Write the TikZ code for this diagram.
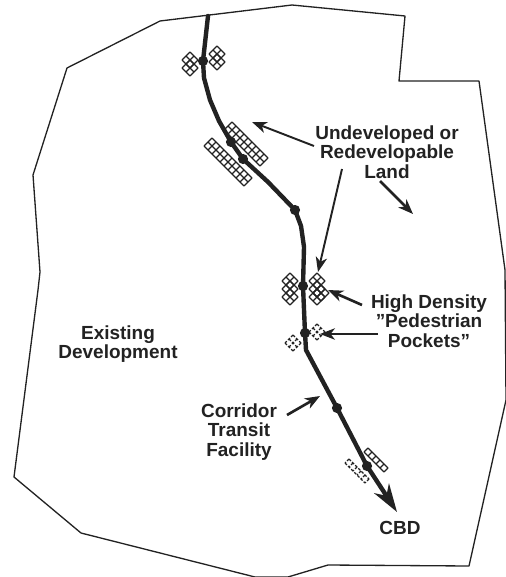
\documentclass[tikz,border=0pt]{standalone}
\usepackage{fontspec}
\setmainfont{Liberation Sans}
\usetikzlibrary{arrows.meta}
\definecolor{ink}{HTML}{222222}
\tikzset{vtx/.style={circle,fill=ink,inner sep=0pt,minimum size=5.8pt},
  outline/.style={line width=0.75pt,ink,line join=round},
  transit/.style={line width=2.5pt,ink,line join=round,line cap=round},
  pointer/.style={line width=1.1pt,ink,-{Stealth[length=8.5pt,width=6.5pt,inset=2.5pt]}},
  boldpointer/.style={pointer,line width=1.5pt},
  lab/.style={align=center,inner sep=0pt,text=ink,font=\fontsize{10.8}{11.1}\selectfont\bfseries},
  hatchline/.style={line width=0.65pt,ink},
  broken/.style={dash pattern=on 1.6pt off 0.9pt},
  pics/xhatch/.style 2 args={code={
    \def\cw{4}
    \foreach \i in {0,...,#1}{
      \draw[hatchline] ({(\i-(#1-#2)/2)*\cw},{(\i-(#1+#2)/2)*\cw}) -- ++({-#2*\cw},{#2*\cw});
    }
    \foreach \j in {0,...,#2}{
      \draw[hatchline] ({(-\j-(#1-#2)/2)*\cw},{(\j-(#1+#2)/2)*\cw}) -- ++({#1*\cw},{#1*\cw});
    }
  }}
}
\begin{document}
\begin{tikzpicture}[x=0.02cm,y=-0.02cm]
  \useasboundingbox (0,0) rectangle (505,577);
  % site edge
  \draw[outline] (67,68) -- (160,21) -- (292,5) -- (405,16) -- (399,81) -- (479,81)
    -- (505,270) -- (506,400) -- (469,566) -- (328,565) -- (288,577) -- (255,577)
    -- (81,533) -- (14,477) -- (38,290) -- (40,272) -- (33,175) -- cycle;
  % pockets
  \foreach \y in {60,68}
    \pic at (190,\y) {xhatch={2}{2}};
  \foreach \y in {54,62}
    \pic at (217,\y) {xhatch={2}{2}};
  \pic at (246,144) {xhatch={9}{2}};
  \pic at (228,162) {xhatch={10}{2}};
  \foreach \y in {281,289,297}
    \pic at (290,\y) {xhatch={2}{2}};
  \foreach \y in {281,289,297}
    \pic at (317,\y) {xhatch={2}{2}};
  \pic at (321,293) {xhatch={2}{2}};
  \pic[broken] at (293,343) {xhatch={2}{2}};
  \pic[broken] at (317,332) {xhatch={2}{2}};
  \pic at (376,460) {xhatch={5}{1}};
  \pic[broken] at (357,471) {xhatch={5}{1}};
  % stations
  \coordinate (S0) at (208,16);
  \node[vtx] (S1) at (203,61) {};
  \node[vtx] (S2) at (231,142) {};
  \node[vtx] (S3) at (243,159) {};
  \node[vtx] (S4) at (295,210) {};
  \node[vtx] (S5) at (303,286) {};
  \node[vtx] (S6) at (305,333) {};
  \node[vtx] (S7) at (337,408) {};
  \node[vtx] (S8) at (367,466) {};
  \coordinate (S9) at (397,512);
  \draw[transit] (S0) -- (S1.center) -- (204,78) -- (210,100) -- (219,121) -- (S2.center)
    -- (S3.center) -- (268,182) -- (S4.center) -- (301,226) -- (304,247)
    -- (S5.center) -- (S6.center) -- (306,350) -- (S7.center) -- (S8.center);
  \draw[line width=2.5pt,ink,-{Stealth[length=16pt,width=10pt,inset=5pt]}] (S8.center) -- (S9);
  % labels
  \node[lab] (land) at (387,152) {Undeveloped or\\Redevelopable\\Land};
  \node[lab] (pockets) at (429,321) {High Density\\"Pedestrian\\Pockets"};
  \node[lab] (existing) at (118,344) {Existing\\Development};
  \node[lab] (corridor) at (239,432) {Corridor\\Transit\\Facility};
  \node[lab] (cbd) at (400,528) {CBD};
  % arrows
  \coordinate (L1) at (314,146);
  \coordinate (L2) at (342,169);
  \coordinate (L3) at (380,181);
  \coordinate (H1) at (362,305);
  \coordinate (H2) at (378,334);
  \coordinate (C1) at (287,415);
  \coordinate (LT1) at (252,122);
  \coordinate (LT2) at (318,272);
  \coordinate (LT3) at (413,214);
  \coordinate (HT1) at (328,290);
  \coordinate (HT2) at (320,334);
  \coordinate (CT1) at (320,396);
  \draw[pointer] (L1) -- (LT1);
  \draw[pointer] (L2) -- (LT2);
  \draw[boldpointer] (L3) -- (LT3);
  \draw[boldpointer] (H1) -- (HT1);
  \draw[pointer] (H2) -- (HT2);
  \draw[boldpointer] (C1) -- (CT1);
\end{tikzpicture}
\end{document}
